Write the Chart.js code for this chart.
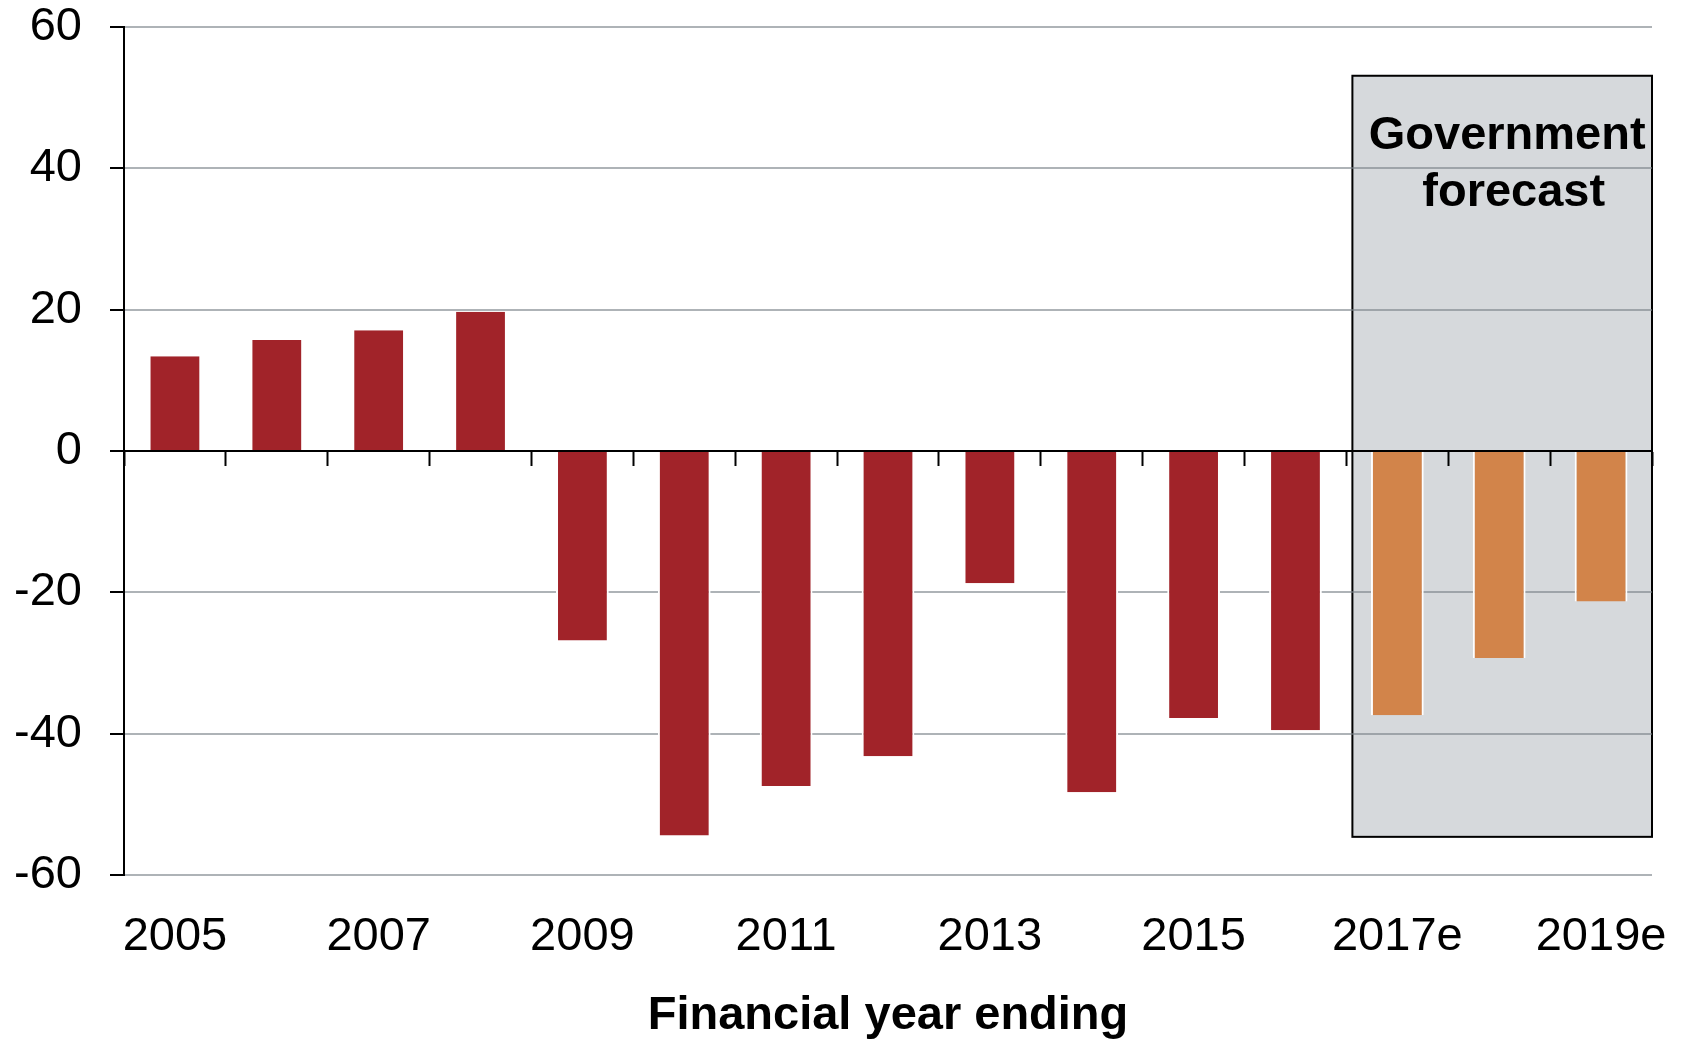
<!DOCTYPE html>
<html>
<head>
<meta charset="utf-8">
<title>Financial year ending</title>
<script src="https://cdn.jsdelivr.net/npm/chart.js@4.4.1/dist/chart.umd.min.js"></script>
<style>
  html, body { margin: 0; padding: 0; background: #fff; }
</style>
</head>
<body>
<canvas id="balanceChart" width="1686" height="1040"></canvas>
<script>
const years = ['2005', '2006', '2007', '2008', '2009', '2010', '2011', '2012',
               '2013', '2014', '2015', '2016', '2017e', '2018e', '2019e'];
const balance = [13.4, 15.7, 17.1, 19.7, -26.8, -54.4, -47.4, -43.2,
                 -18.7, -48.3, -37.8, -39.5, -37.4, -29.3, -21.3];
const xTickLabels = ['2005', '', '2007', '', '2009', '', '2011', '', '2013', '',
                     '2015', '', '2017e', '', '2019e'];
const yTicks = [-60, -40, -20, 0, 20, 40, 60];
const forecastYears = ['2017e', '2018e', '2019e'];
const forecastLabel = ['Government', ' forecast'];
const forecastRange = [53.1, -54.6]; // top / bottom of the shaded band (axis units)

document.addEventListener("DOMContentLoaded", () => {

    const red = '#a12329';
    const orange = '#d2844a';
    const fontFamily = '"Liberation Sans", Arial, Helvetica, sans-serif';

    const firstForecast = years.indexOf(forecastYears[0]);
    const barColors = years.map((y, i) => i >= firstForecast ? orange : red);

    // grey box behind the forecast years + its caption
    const forecastBox = {
        id: 'forecastBox',
        beforeDraw(chart) {
            const { ctx, scales: { x, y } } = chart;
            const left = x.getPixelForValue(firstForecast - 0.5) + 6;
            const right = x.getPixelForValue(years.length - 0.5);
            const top = y.getPixelForValue(forecastRange[0]);
            const bottom = y.getPixelForValue(forecastRange[1]);
            ctx.save();
            ctx.fillStyle = '#d6d9dc';
            ctx.fillRect(left, top, right - left, bottom - top);
            ctx.lineWidth = 2;
            ctx.strokeStyle = '#000';
            ctx.strokeRect(left, top, right - left, bottom - top);
            ctx.restore();
        },
        afterDraw(chart) {
            const { ctx, scales: { x, y } } = chart;
            const left = x.getPixelForValue(firstForecast - 0.5) + 6;
            const right = x.getPixelForValue(years.length - 0.5);
            const top = y.getPixelForValue(forecastRange[0]);
            ctx.save();
            ctx.fillStyle = '#000';
            ctx.font = 'bold 47px ' + fontFamily;
            ctx.textAlign = 'center';
            ctx.textBaseline = 'alphabetic';
            forecastLabel.forEach((line, i) => {
                ctx.fillText(line, (left + right) / 2 + 5, top + 73 + i * 57);
            });
            ctx.restore();
        }
    };

    const ctx = document.getElementById('balanceChart').getContext('2d');

    window.balanceChart = new Chart(ctx, {
        type: 'bar',
        data: {
            labels: years,
            datasets: [{
                data: balance,
                backgroundColor: barColors,
                borderColor: '#ffffff',
                borderWidth: { left: 2, right: 2, top: 0, bottom: 0 },
                borderSkipped: false,
                barPercentage: 0.518,
                categoryPercentage: 1
            }]
        },
        options: {
            responsive: false,
            animation: false,
            layout: { padding: { top: 27, right: 34, bottom: 0, left: 0 } },
            plugins: {
                legend: { display: false },
                tooltip: { enabled: false }
            },
            scales: {
                x: {
                    position: 'bottom',
                    offset: true,
                    grid: { display: false },
                    border: { display: false },
                    ticks: {
                        autoSkip: false,
                        maxRotation: 0,
                        padding: 31,
                        color: '#000',
                        font: { family: fontFamily, size: 47, lineHeight: 1 },
                        callback: (value, index) => xTickLabels[index]
                    },
                    title: {
                        display: true,
                        text: 'Financial year ending',
                        color: '#000',
                        padding: { top: 0, bottom: 0 },
                        font: { family: fontFamily, size: 47, weight: 'bold', lineHeight: 1 }
                    },
                    afterFit: (scale) => {
                        scale.height = 165;
                        scale.paddingLeft = 0;
                        scale.paddingRight = 0;
                    }
                },
                // axis line and tick marks sitting on the zero line
                x2: {
                    type: 'category',
                    axis: 'x',
                    position: { y: 0 },
                    offset: true,
                    grid: {
                        offset: true,
                        drawOnChartArea: false,
                        drawTicks: true,
                        tickLength: 14,
                        tickWidth: 2,
                        tickColor: '#000',
                        color: '#000'
                    },
                    border: { display: true, color: '#000', width: 2, z: 1 },
                    ticks: { display: false },
                    afterFit: (scale) => {
                        scale.height = 0;
                        scale.paddingLeft = 0;
                        scale.paddingRight = 0;
                    }
                },
                y: {
                    min: -60,
                    max: 60,
                    afterBuildTicks: (scale) => {
                        scale.ticks = yTicks.map(v => ({ value: v }));
                    },
                    grid: {
                        color: 'rgba(120, 128, 135, 0.6)',
                        lineWidth: 2,
                        tickLength: 14,
                        tickWidth: 2,
                        tickColor: '#000'
                    },
                    border: { display: true, color: '#000', width: 2 },
                    ticks: {
                        padding: 28,
                        color: '#000',
                        font: { family: fontFamily, size: 47, lineHeight: 1 }
                    },
                    afterFit: (scale) => {
                        scale.width = 124;
                        scale.paddingTop = 0;
                        scale.paddingBottom = 0;
                    }
                }
            }
        },
        plugins: [forecastBox]
    });
});
</script>
</body>
</html>
